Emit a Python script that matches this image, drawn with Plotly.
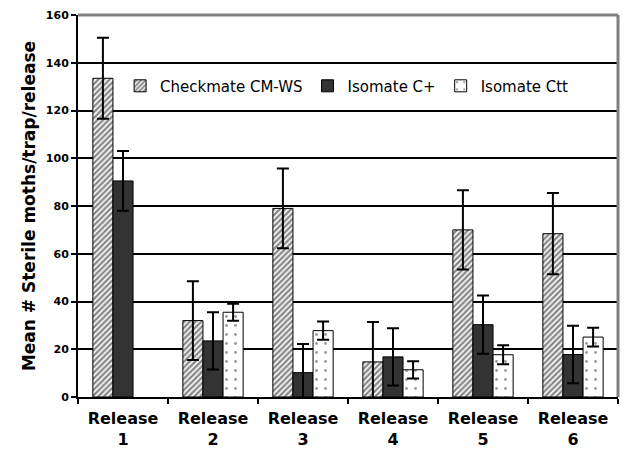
import plotly.graph_objects as go

categories = ["Release<br>1", "Release<br>2", "Release<br>3", "Release<br>4", "Release<br>5", "Release<br>6"]
checkmate = [133.5, 32, 79, 14.7, 70, 68.4]
checkmate_err = [17, 16.5, 16.7, 16.7, 16.6, 17]
isomate_cplus = [90.5, 23.5, 10.2, 16.8, 30.3, 17.8]
isomate_cplus_err = [12.5, 12, 12, 12, 12.2, 12]
isomate_ctt = [None, 35.5, 27.8, 11.4, 17.7, 25.1]
isomate_ctt_err = [None, 3.6, 3.8, 3.6, 4, 3.9]
y_ticks = [0, 20, 40, 60, 80, 100, 120, 140, 160]

err_style = dict(type="data", color="black", thickness=2, width=6)
bold_font = "DejaVu Sans, Verdana, sans-serif"

fig = go.Figure()
fig.add_trace(go.Bar(
    name="Checkmate CM-WS", x=categories, y=checkmate,
    error_y=dict(array=checkmate_err, **err_style),
    marker=dict(color="white", line=dict(color="black", width=1),
                pattern=dict(shape="/", fgcolor="#111111", bgcolor="white", size=4, solidity=0.6)),
))
fig.add_trace(go.Bar(
    name="Isomate C+", x=categories, y=isomate_cplus,
    error_y=dict(array=isomate_cplus_err, **err_style),
    marker=dict(color="#333333", line=dict(color="black", width=1)),
))
fig.add_trace(go.Bar(
    name="Isomate Ctt", x=categories, y=isomate_ctt,
    error_y=dict(array=isomate_ctt_err, **err_style),
    marker=dict(color="white", line=dict(color="black", width=1),
                pattern=dict(shape=".", fgcolor="#333333", bgcolor="white", size=9, solidity=0.08)),
))

fig.update_layout(
    width=626, height=449,
    margin=dict(l=78, r=8, t=15, b=52),
    paper_bgcolor="white", plot_bgcolor="white",
    barmode="group", bargap=0.33, bargroupgap=0,
    font=dict(family="DejaVu Sans, Verdana, sans-serif", color="black"),
    legend=dict(orientation="h", x=0.078, y=0.814, xanchor="left", yanchor="middle",
                bgcolor="rgba(0,0,0,0)", font=dict(size=15, color="black"),
                itemwidth=30, tracegroupgap=0),
    xaxis=dict(showline=True, linecolor="black", linewidth=2, ticks="outside",
               tickson="boundaries", ticklen=5, tickwidth=2, tickcolor="black",
               tickfont=dict(size=16, family=bold_font, weight="bold"),
               ticklabelstandoff=6,
               showgrid=False, automargin=False),
    yaxis=dict(range=[0, 160], tickvals=y_ticks, showline=True, linecolor="black", linewidth=2,
               ticks="outside", ticklen=5, tickwidth=2, tickcolor="black",
               tickfont=dict(size=11, family=bold_font, weight="bold"),
               showgrid=True, gridcolor="black", gridwidth=1.6, zeroline=False, automargin=False,
               title=dict(text="Mean # Sterile moths/trap/release", standoff=6,
                          font=dict(size=17, family=bold_font, weight="bold"))),
    shapes=[
        dict(type="line", xref="paper", yref="paper", x0=0, x1=1, y0=1, y1=1,
             line=dict(color="#808080", width=3)),
        dict(type="line", xref="paper", yref="paper", x0=1, x1=1, y0=0, y1=1,
             line=dict(color="#808080", width=3)),
    ],
)

fig.write_html("out.html", config={"displayModeBar": False},
               post_script="document.body.style.margin='0';document.body.style.overflow='hidden';")
